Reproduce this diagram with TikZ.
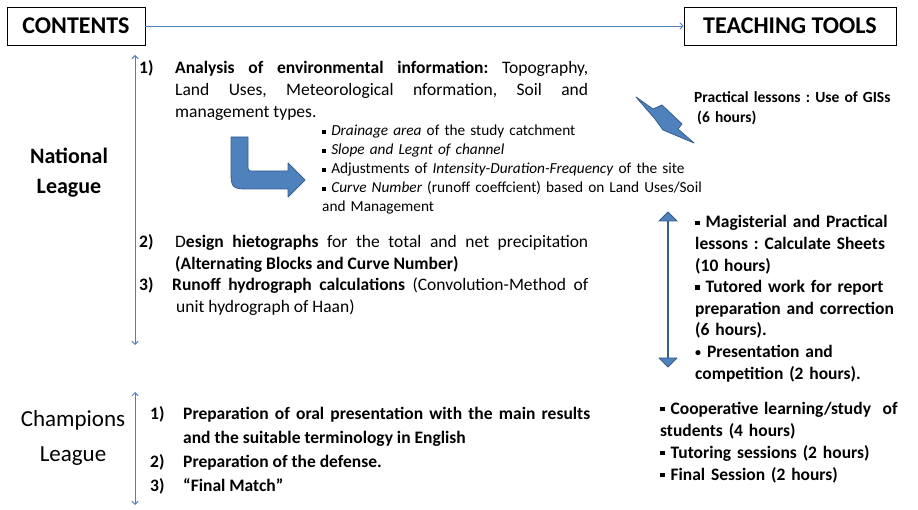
\documentclass[tikz,border=0pt]{standalone}
\usepackage{fontspec}
\setmainfont{Carlito}
\usepackage{xcolor}
\usetikzlibrary{arrows,shapes.arrows}

\definecolor{lineblue}{RGB}{79,129,189}
\definecolor{edgeblue}{RGB}{56,93,138}
\newcommand{\sqb}{\rule[0.16em]{0.26em}{0.26em}\ }
\newcommand{\rdb}{{\fontsize{12}{12}\selectfont\raisebox{0.1em}{•}}\ }
\frenchspacing

\tikzset{
	headbox/.style={draw,line width=0.8pt,minimum height=38pt,inner sep=0pt,
		font=\fontsize{24}{28}\selectfont\bfseries},
	league/.style={align=center,inner sep=0pt,font=\fontsize{23}{35}\selectfont},
	numtxt/.style={anchor=base west,inner sep=0pt,font=\fontsize{17.5}{22.5}\selectfont\bfseries},
	itemtxt/.style={anchor=base west,inner sep=0pt,text width=413pt,align=justify,
		font=\fontsize{17.5}{22}\selectfont},
	smalltxt/.style={anchor=base west,inner sep=0pt,text width=420pt,align=left,
		font=\fontsize{15.3}{19}\selectfont},
	tooltxt/.style={anchor=base west,inner sep=0pt,text width=250pt,align=left,
		font=\fontsize{17.5}{21.6}\selectfont\bfseries},
	bluefill/.style={fill=lineblue,draw=edgeblue,line width=0.8pt,line join=round}
}

\begin{document}
\begin{tikzpicture}[x=1pt,y=-1pt]
		\useasboundingbox (0,0) rectangle (918,510);
		% headings
		\node[headbox,minimum width=138pt] (CON) at (76,26) {CONTENTS};
		\node[headbox,minimum width=212pt] (TT) at (790,26) {TEACHING TOOLS};
		\node[league,font=\fontsize{22}{30}\selectfont\bfseries] (NL) at (69,173) {National\\League};
		\node[league] (CL) at (73,438) {Champions\\League};
		%
		\coordinate (NT) at (135,55);
		\coordinate (NB) at (135,345);
		\coordinate (CT) at (135,392);
		\coordinate (CB) at (135,505);
		%
		% national league
		\node[numtxt] (n1) at (139,74) {1)};
		\node[itemtxt] (i1) at (175,74) {\textbf{Analysis of environmental information:} Topography,\linebreak
			Land Uses, Meteorological nformation, Soil and\linebreak management types.};
		\node[smalltxt] (b1) at (322,136) {\sqb\textit{Drainage area} of the study catchment\\
			\sqb\textit{Slope and Legnt of channel}\\
			\sqb Adjustments of \textit{Intensity-Duration-Frequency} of the site\\
			\sqb\textit{Curve Number} (runoff coeffcient) based on Land Uses/Soil\\
			and Management};
		\node[numtxt] (n2) at (139,248) {2)};
		\node[itemtxt] (i2) at (175,248) {D\textbf{esign hietographs} for the total and net precipitation\linebreak
			\textbf{(Alternating Blocks and Curve Number)}};
		\node[numtxt] (n3) at (139,291) {3)};
		\node[itemtxt,text width=416pt] (i3) at (172,291) {\textbf{Runoff hydrograph calculations} (Convolution-Method of\linebreak
			\hspace*{4pt}unit hydrograph of Haan)};
		%
		% champions league
		\node[numtxt] (c1) at (150,419) {1)};
		\node[numtxt] (c2) at (150,467) {2)};
		\node[numtxt] (c3) at (150,491) {3)};
		\node[itemtxt,text width=407pt,font=\fontsize{17.5}{24}\selectfont\bfseries] (d1) at (183,419)
			{Preparation of oral presentation with the main results\linebreak and the suitable terminology in English};
		\node[numtxt] (d2) at (183,467) {Preparation of the defense.};
		\node[numtxt] (d3) at (183,491) {“Final Match”};
		%
		% teaching tools
		\node[tooltxt,font=\fontsize{15.5}{20}\selectfont\bfseries] (t1) at (694,102.5)
			{Practical lessons : Use of GISs\\ \hspace*{3pt}(6 hours)};
		\node[tooltxt] (t2) at (695,228) {\sqb Magisterial and Practical\\ lessons : Calculate Sheets\\ (10 hours)\\
			\sqb Tutored work for report\\ preparation and correction\\ (6 hours).\\
			\rdb Presentation and\\ competition (2 hours).};
		\node[tooltxt,font=\fontsize{17.5}{22}\selectfont\bfseries] (t3) at (660,414)
			{\sqb Cooperative learning/study\ \ of\\ students (4 hours)\\ \sqb Tutoring sessions (2 hours)\\
			\sqb Final Session (2 hours)};
		\node[double arrow,rotate=90,bluefill,inner sep=0pt,minimum height=155pt,minimum width=18pt,
			double arrow head extend=6pt] (DA) at (668,289.5) {};
		%
		% block arrows
		\filldraw[bluefill] (231,137) -- (248,137) -- (248,165) .. controls (248,171) .. (254,171)
			-- (288,171) -- (288,163) -- (305,180) -- (288,197) -- (288,189) -- (252,189)
			.. controls (231,189) .. (231,168) -- cycle;
		\filldraw[bluefill] (636,97) -- (653,109) -- (662,105) -- (682,124) -- (678,129)
			-- (694,143) -- (663,130) -- (655,119) -- cycle;
		%
		\path[->,lineblue,line width=0.9pt,>=angle 90]
		% horizontal arrow
		(CON) edge node{} (TT)
		% vertical arrows
		(NT) edge[<->] node{} (NB)
		(CT) edge[<->] node{} (CB);
	\end{tikzpicture}
\end{document}
